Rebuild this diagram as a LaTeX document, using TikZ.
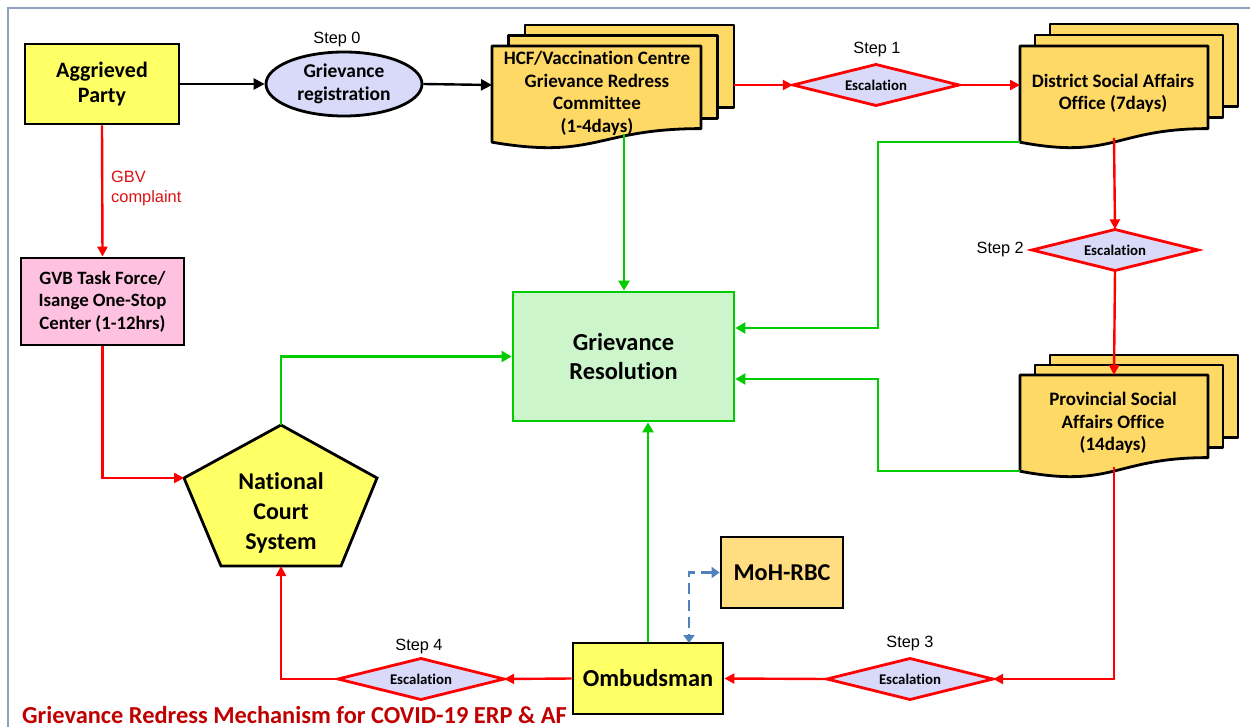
\documentclass[tikz,border=0pt]{standalone}
\usepackage{fontspec}
\setmainfont{Carlito}[Ligatures={NoCommon}]
\newfontfamily\arialf{Liberation Sans}
\usetikzlibrary{arrows.meta,shapes.geometric,calc}
\definecolor{ylw}{HTML}{FFFF66}
\definecolor{docc}{HTML}{FFD966}
\definecolor{lav}{HTML}{D9D9FA}
\definecolor{pnk}{HTML}{FFC1E0}
\definecolor{grfill}{HTML}{CCF5CC}
\definecolor{grn}{HTML}{00CC00}
\definecolor{rd}{HTML}{FF0000}
\definecolor{mohc}{HTML}{FFDD80}
\definecolor{bl}{HTML}{4F81BD}
\definecolor{framec}{HTML}{8EA2C0}
\definecolor{ttl}{HTML}{C00000}
\definecolor{lblred}{HTML}{DD1111}
\newcommand\docpage[4]{%
 \pgfmathsetmacro\dxa{#1+#3}\pgfmathsetmacro\dxm{#1+#3/2}%
 \pgfmathsetmacro\dyr{#2+0.802*#4}\pgfmathsetmacro\dyc{#2+1.107*#4}\pgfmathsetmacro\dyl{#2+0.934*#4}%
 \filldraw[docsty] (#1,#2) -- (\dxa,#2) -- (\dxa,\dyr) .. controls (\dxm,\dyr) and (\dxm,\dyc) .. (#1,\dyl) -- cycle;}
\newcommand\backpage[4]{\filldraw[docsty] (#1,#2) rectangle ({#1+#3},{#2+0.802*#4});}
\newcommand\docstack[6]{%
 \backpage{#1+2*#5}{#2-2*#6}{#3}{#4}%
 \backpage{#1+#5}{#2-#6}{#3}{#4}%
 \docpage{#1}{#2}{#3}{#4}}
\begin{document}
\begin{tikzpicture}[x=1pt,y=-1pt,
 docsty/.style={fill=docc,draw=black,line width=2.8pt,line join=round},
 bx/.style={draw=black,line width=2.8pt,align=center,inner sep=0pt,font=\bfseries\fontsize{19}{22.5}\selectfont},
 txt/.style={align=center,inner sep=0pt,font=\bfseries\fontsize{19}{22.5}\selectfont},
 esc/.style={draw=none,inner sep=0pt,minimum width=166pt,minimum height=41pt,font=\bfseries\fontsize{14.8}{16}\selectfont},
 escshape/.style={draw=rd,fill=lav,line width=2.8pt,line join=miter},
 steplbl/.style={inner sep=0pt,font=\arialf\fontsize{16.3}{19}\selectfont},
 rarr/.style={draw=rd,line width=2.4pt,-{Triangle[length=10pt,width=10pt]}},
 garr/.style={draw=grn,line width=2.4pt,-{Triangle[length=10pt,width=11pt]}},
 karr/.style={draw=black,line width=2.4pt,-{Triangle[length=11pt,width=11pt]}},
]
\useasboundingbox (0,0) rectangle (1250,727);
% frame
\draw[framec,line width=1.4pt] (8,727) -- (8,8) -- (1250,8);

% document stacks
\docstack{492}{46}{209}{103}{16.5}{10.5}
\docstack{1020}{46}{188}{103}{15}{11}
\docstack{1020}{375}{188}{103}{15}{10}
\node[txt] (hcf) at (597,93.5) {HCF/Vaccination Centre\\Grievance Redress\\Committee\\(1-4days)};
\node[txt] (dso) at (1113,93.5) {District Social Affairs\\Office (7days)};
\node[txt] (pso) at (1113,423) {Provincial Social\\Affairs Office\\(14days)};
\coordinate (hcfR) at (734,85);
\coordinate (hcfB) at (624,134);
\coordinate (dsoBL) at (1020,142);
\coordinate (dsoB) at (1114,138);
\coordinate (dsoT) at (1020,85);
\coordinate (psoT) at (1114,375);
\coordinate (psoBL) at (1020,471);
\coordinate (psoB) at (1114,467);

% nodes
\node[bx,fill=ylw,minimum width=154pt,minimum height=80pt,font=\bfseries\fontsize{22}{25}\selectfont] (ap) at (102,84) {Aggrieved\\Party};
\node[ellipse,draw=black,fill=lav,line width=2.8pt,minimum width=156pt,minimum height=64pt,inner sep=0pt,align=center,font=\bfseries\fontsize{19.5}{23}\selectfont] (reg) at (344,84) {Grievance\\registration};
\node[steplbl] (s0) at (337,40) {Step 0};
\node[bx,fill=pnk,minimum width=163pt,minimum height=87pt,font=\bfseries\fontsize{18.8}{22.5}\selectfont] (gvb) at (102.5,301.5) {GVB Task Force/\\Isange One-Stop\\Center (1-12hrs)};
\node[draw=grn,fill=grfill,line width=2.8pt,minimum width=221pt,minimum height=129pt,inner sep=0pt,align=center,font=\bfseries\fontsize{24.4}{29}\selectfont] (gr) at (623.5,356.5) {Grievance\\Resolution};
% escalation diamonds
\foreach \nm/\cx/\cy in {e1/876/85, e2/1115/250, e3/910/679, e4/421/679}{
  \filldraw[escshape] (\cx-83,\cy) -- (\cx,\cy-20.5) -- (\cx+83,\cy) -- (\cx,\cy+20.5) -- cycle;
}
\node[esc] (e1) at (876,85) {Escalation};
\node[esc] (e2) at (1115,250) {Escalation};
\node[esc] (e3) at (910,679) {Escalation};
\node[esc] (e4) at (421,679) {Escalation};
\node[steplbl] (s1) at (877,50) {Step 1};
\node[steplbl,anchor=east] (s2) at (1024,250) {Step 2};
\node[steplbl] (s3) at (910,643) {Step 3};
\node[steplbl] (s4) at (419,646) {Step 4};
\node[bx,fill=ylw,minimum width=150pt,minimum height=71pt,font=\bfseries\fontsize{24.4}{28}\selectfont] (omb) at (648,678.5) {Ombudsman};
\node[bx,fill=mohc,minimum width=122pt,minimum height=71pt,font=\bfseries\fontsize{24.2}{28}\selectfont] (moh) at (782,572.5) {MoH-RBC};

% national court pentagon
\coordinate (pT) at (281,425);
\coordinate (pL) at (184,478);
\coordinate (pR) at (377,478);
\coordinate (pBR) at (341,566);
\coordinate (pBL) at (221,566);
\filldraw[fill=ylw,draw=black,line width=2.8pt,line join=miter] (pT) -- (pR) -- (pBR) -- (pBL) -- (pL) -- cycle;
\node[txt,font=\bfseries\fontsize{24}{30}\selectfont] (ncs) at (281,513) {National\\Court\\System};
\coordinate (pB) at (281,566);

% labels
\node[anchor=north west,align=left,inner sep=0pt,text=lblred,font=\arialf\fontsize{16.4}{20}\selectfont] (gbv) at (111,171) {GBV\\complaint};
\node[anchor=base west,inner sep=0pt,text=ttl,font=\bfseries\fontsize{24.4}{28}\selectfont] (title) at (22,723) {Grievance Redress Mechanism for COVID-19 ERP \& AF};

% black arrows
\draw[karr] (ap.east) -- (reg.west);
\draw[karr] (reg.east) -- (492,85);

% red arrows
\draw[rarr] (hcfR) -- (e1.west);
\draw[rarr] (e1.east) -- (dsoT);
\draw[rarr] (dsoB) -- (e2.north);
\draw[rarr] (e2.south) -- (psoT);
\draw[rarr] (psoB) -- (1114,679) -- (e3.east);
\draw[rarr] (e3.west) -- (omb.east);
\draw[rarr] (omb.west) -- (e4.east);
\draw[rarr] (e4.west) -| (pB);
\draw[rarr] (ap.south) -- (gvb.north);
\draw[rarr] (gvb.south) |- (pL);

% green arrows
\draw[garr] (hcfB) -- (hcfB |- gr.north);
\draw[garr] (dsoBL) -- (878,142) -- (878,328) -- (gr.east |- {(0,328)});
\draw[garr] (psoBL) -- (878,471) -- (878,379) -- (gr.east |- {(0,379)});
\draw[garr] (pT) |- (gr.west);
\draw[garr] (omb.north) -- (omb.north |- gr.south);

% blue dashed
\draw[bl,line width=2.8pt,dash pattern=on 11pt off 6pt,{Triangle[length=8pt,width=11pt]}-{Triangle[length=8pt,width=11pt]}] (moh.west) -- (689,572.5) -- (689,643);
\end{tikzpicture}
\end{document}
